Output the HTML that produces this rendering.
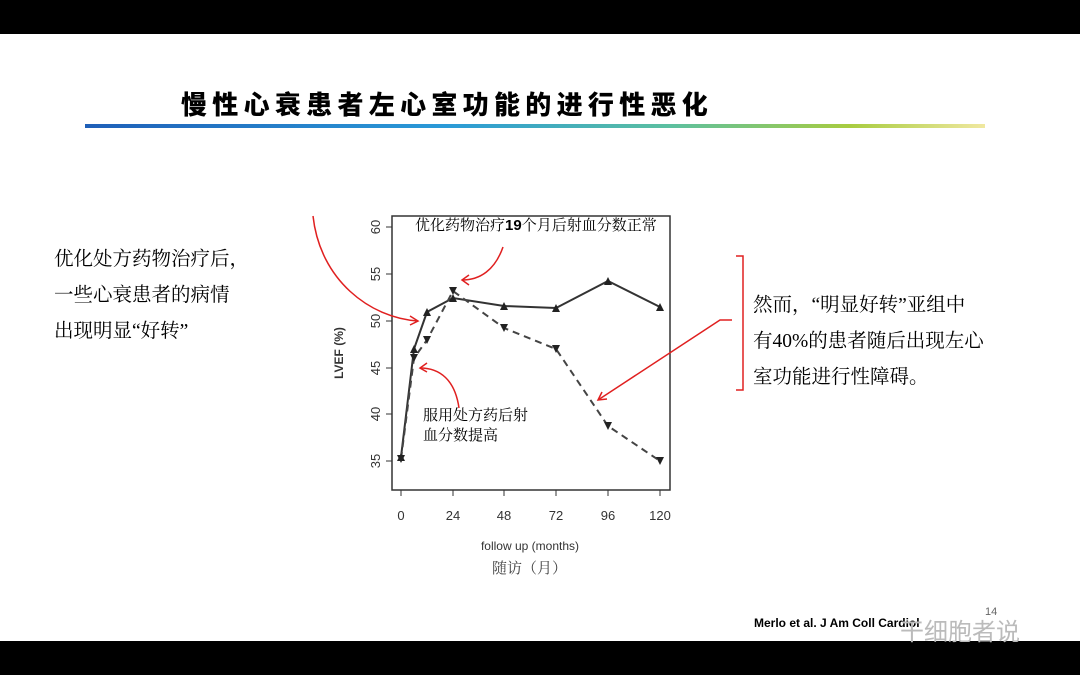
<!DOCTYPE html>
<html><head><meta charset="utf-8"><style>
body{margin:0;width:1080px;height:675px;background:#fff;position:relative;overflow:hidden;font-family:"Liberation Serif","Noto Serif CJK SC",serif}
.bar{position:absolute;left:0;width:1080px;background:#000}
.t{position:absolute;white-space:nowrap}
</style></head><body>
<div class="bar" style="top:0;height:34px"></div>
<div class="bar" style="top:641px;height:34px"></div>
<div class="t" style="left:181px;top:85px;font-size:26px;font-weight:900;letter-spacing:5.3px;font-family:'Noto Sans CJK SC',sans-serif">慢性心衰患者左心室功能的进行性恶化</div>
<div style="position:absolute;left:85px;top:124px;width:900px;height:4px;background:linear-gradient(90deg,#1f5fb8,#2a9ad8 40%,#5cc0a0 65%,#a8cc40 85%,#f0e8a0)"></div>
<div class="t" style="left:54px;top:242px;font-size:19.5px;line-height:36px">优化处方药物治疗后，<br>一些心衰患者的病情<br>出现明显“好转”</div>
<div class="t" style="left:753px;top:288px;font-size:19.5px;line-height:36px">然而，“明显好转”亚组中<br>有40%的患者随后出现左心<br>室功能进行性障碍。</div>
<svg width="1080" height="675" style="position:absolute;left:0;top:0" font-family="Liberation Sans,sans-serif">
<rect x="392" y="216" width="278" height="274" fill="none" stroke="#333" stroke-width="1.5"/>
<g stroke="#333" stroke-width="1">
<line x1="392" y1="227" x2="386" y2="227"/><line x1="392" y1="274" x2="386" y2="274"/><line x1="392" y1="321" x2="386" y2="321"/><line x1="392" y1="368" x2="386" y2="368"/><line x1="392" y1="414" x2="386" y2="414"/><line x1="392" y1="461" x2="386" y2="461"/>
<line x1="401" y1="490" x2="401" y2="496"/><line x1="453" y1="490" x2="453" y2="496"/><line x1="504" y1="490" x2="504" y2="496"/><line x1="556" y1="490" x2="556" y2="496"/><line x1="608" y1="490" x2="608" y2="496"/><line x1="660" y1="490" x2="660" y2="496"/>
</g>
<g font-size="13" fill="#333" text-anchor="middle">
<text transform="translate(376,227) rotate(-90)" dy="4">60</text>
<text transform="translate(376,274) rotate(-90)" dy="4">55</text>
<text transform="translate(376,321) rotate(-90)" dy="4">50</text>
<text transform="translate(376,368) rotate(-90)" dy="4">45</text>
<text transform="translate(376,414) rotate(-90)" dy="4">40</text>
<text transform="translate(376,461) rotate(-90)" dy="4">35</text>
<text transform="translate(343,353) rotate(-90)" font-size="12" font-weight="bold">LVEF (%)</text>
<text x="401" y="520">0</text><text x="453" y="520">24</text><text x="504" y="520">48</text><text x="556" y="520">72</text><text x="608" y="520">96</text><text x="660" y="520">120</text>
<text x="530" y="550" font-size="12">follow up (months)</text>
</g>
<polyline fill="none" stroke="#333" stroke-width="2" points="401,457 414,349 427,312 453,298 504,306 556,308 608,281 660,307"/>
<polyline fill="none" stroke="#444" stroke-width="2" stroke-dasharray="7,5" points="401,459 414,358 427,340 453,291 504,328 556,349 608,426 660,461"/>
<g fill="#222">
<polygon points="397,461 405,461 401,453"/><polygon points="410,353 418,353 414,345"/><polygon points="423,316 431,316 427,308"/><polygon points="449,302 457,302 453,294"/><polygon points="500,310 508,310 504,302"/><polygon points="552,312 560,312 556,304"/><polygon points="604,285 612,285 608,277"/><polygon points="656,311 664,311 660,303"/>
<polygon points="397,455 405,455 401,463"/><polygon points="410,354 418,354 414,362"/><polygon points="423,336 431,336 427,344"/><polygon points="449,287 457,287 453,295"/><polygon points="500,324 508,324 504,332"/><polygon points="552,345 560,345 556,353"/><polygon points="604,422 612,422 608,430"/><polygon points="656,457 664,457 660,465"/>
</g>
<g fill="none" stroke="#e02020" stroke-width="1.5">
<path d="M313,216 C320,280 370,318 418,321"/><path d="M410,316 L418,321 L410,325"/>
<path d="M503,247 C495,270 480,280 462,280"/><path d="M469,275 L462,280 L469,285"/>
<path d="M459,408 C455,380 440,368 420,368"/><path d="M427,363 L420,368 L427,372"/>
<path d="M736,256 L743,256 L743,390 L736,390"/><path d="M732,320 L720,320 L598,400"/><path d="M602,392 L598,400 L607,399"/>
</g>
</svg>
<div class="t" style="left:415px;top:214px;font-size:15px">优化药物治疗<b style="font-family:'Liberation Sans'">19</b>个月后射血分数正常</div>
<div class="t" style="left:423px;top:406px;font-size:15px;line-height:20px">服用处方药后射<br>血分数提高</div>
<div class="t" style="left:492px;top:557px;font-size:15px;color:#444">随访（月）</div>
<div class="t" style="left:754px;top:616px;font-size:12px;font-weight:bold;font-family:'Liberation Sans',sans-serif">Merlo et al. J Am Coll Cardiol</div>
<div class="t" style="left:985px;top:606px;font-size:11px;color:#666;font-family:'Liberation Sans',sans-serif">14</div>
<div class="t" style="left:900px;top:612px;font-size:24px;color:#bbb;font-family:'Noto Sans CJK SC',sans-serif">干细胞者说</div>
</body></html>
